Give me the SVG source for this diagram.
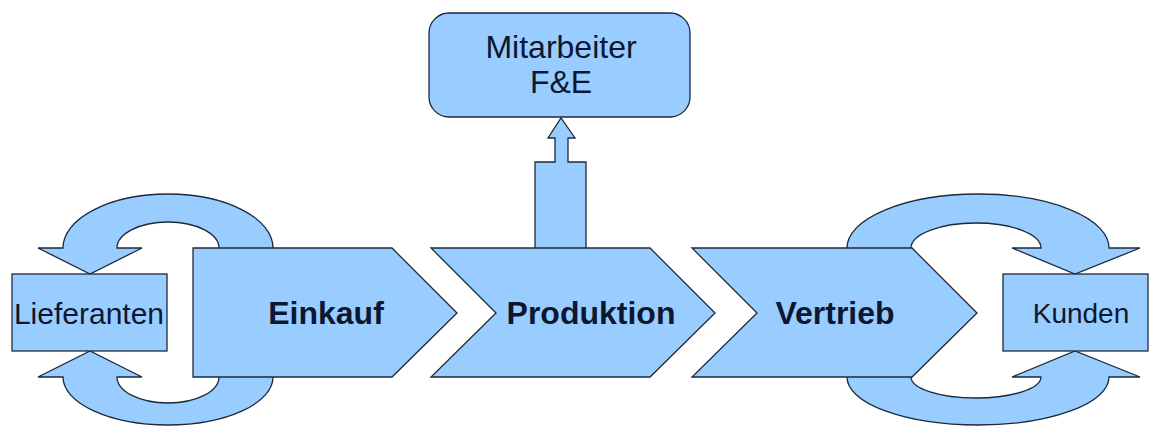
<svg xmlns="http://www.w3.org/2000/svg" width="1155" height="426" viewBox="0 0 1155 426">
<style>
.s{fill:#99ccff;stroke:#1c2a3a;stroke-width:1.3;stroke-linejoin:miter}
.t{font-family:"Liberation Sans",Arial,sans-serif;fill:#0d1730;text-anchor:middle}
.b{font-weight:bold;font-size:32px}
.r{font-size:30px}
</style>
<rect width="1155" height="426" fill="#ffffff"/>
<g id="connectors">
<path class="s" d="M38,248 L63,248 A105,54 0 0 1 273,248 L273,262 L219,262 L219,248 A51,26 0 0 0 117,248 L142,248 L90,274 Z"/>
<path class="s" d="M38,377 L63,377 A105,48 0 0 0 273,377 L273,365 L219,365 L219,377 A51,26 0 0 1 117,377 L142,377 L90,351 Z"/>
<path class="s" d="M847,248 A131,54 0 0 1 1109,248 L1140,248 L1075,274 L1012,248 L1041,248 A65,25 0 0 0 911,248 L911,262 L847,262 Z"/>
<path class="s" d="M847,377 A131,48 0 0 0 1109,377 L1140,377 L1075,351 L1012,377 L1041,377 A65,21 0 0 1 911,377 L911,365 L847,365 Z"/>
<path class="s" d="M535,252 L535,162 L555,162 L555,138 L548,138 L561,118 L575,138 L568,138 L568,162 L586,162 L586,252 Z"/>
</g>
<g id="lieferanten">
<rect class="s" x="12" y="274" width="155" height="77"/>
<text class="t r" x="89" y="324">Lieferanten</text>
</g>
<g id="kunden">
<rect class="s" x="1003" y="274" width="145" height="77"/>
<text class="t" style="font-size:28px" x="1081" y="323">Kunden</text>
</g>
<g id="einkauf">
<path class="s" d="M193,248 L392,248 L457,313 L392,377 L193,377 Z"/>
<text class="t b" x="326" y="324">Einkauf</text>
</g>
<g id="produktion">
<path class="s" d="M431,248 L650,248 L715,313 L650,377 L431,377 L496,313 Z"/>
<text class="t b" x="591" y="324">Produktion</text>
</g>
<g id="vertrieb">
<path class="s" d="M692,248 L912,248 L977,313 L912,377 L692,377 L757,313 Z"/>
<text class="t b" x="835" y="324">Vertrieb</text>
</g>
<g id="mitarbeiter">
<rect class="s" x="429" y="13" width="261" height="104" rx="20" ry="20"/>
<text class="t" style="font-size:32px" x="561" y="58">Mitarbeiter</text>
<text class="t" style="font-size:32px" x="561" y="93">F&amp;E</text>
</g>
</svg>
